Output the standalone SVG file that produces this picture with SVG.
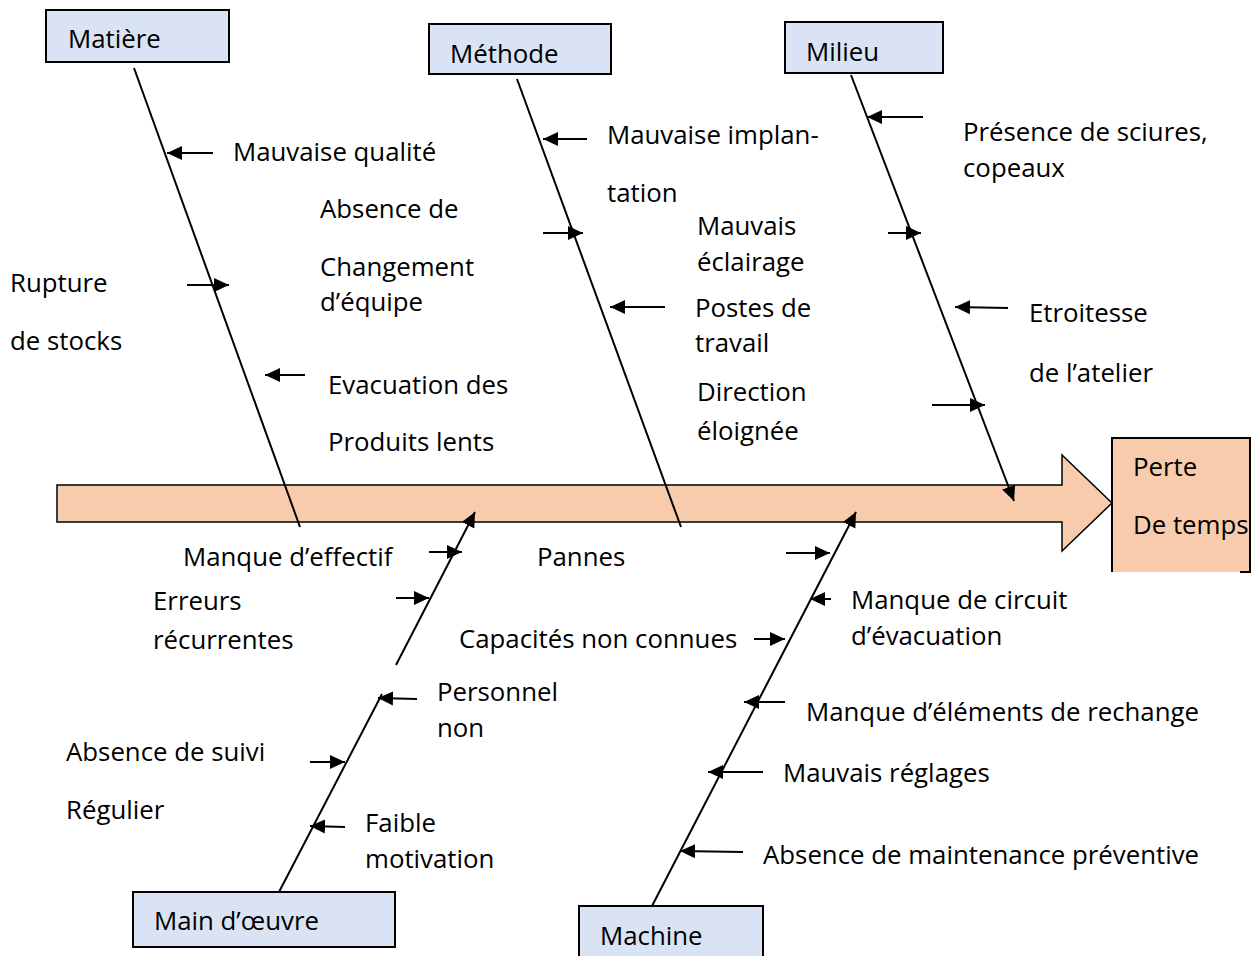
<svg xmlns="http://www.w3.org/2000/svg" width="1252" height="956" viewBox="0 0 1252 956">
<style>
.cat{fill:#DAE3F3;stroke:#000;stroke-width:2}
.eff{fill:#F8CBAD}
.ln{fill:none;stroke:#000;stroke-width:2}
.ar{fill:none;stroke:#000;stroke-width:2;marker-end:url(#ah)}
text{font-family:"Open Sans","Noto Sans",sans-serif;font-size:25.8px;fill:#000}
</style>
<defs>
<marker id="ah" markerUnits="userSpaceOnUse" markerWidth="17" markerHeight="16" refX="15" refY="8" orient="auto">
<path d="M0,1 L15,8 L0,15 Z" fill="#000"/>
</marker>
</defs>
<rect width="1252" height="956" fill="#fff"/>

<g id="spine">
<polygon class="eff" stroke="#000" stroke-width="1.5" points="57,485 1062,485 1062,455 1112,503 1062,551 1062,522 57,522"/>
</g>

<g id="effect">
<rect class="eff" x="1112" y="438" width="138" height="134"/>
<path d="M1112,572 V438 H1250 V572 H1240" fill="none" stroke="#000" stroke-width="2"/>
<text x="1133" y="476">Perte</text>
<text x="1133" y="534">De temps</text>
</g>

<g id="matiere">
<rect class="cat" x="46" y="10" width="183" height="52"/>
<text x="68" y="48">Matière</text>
</g>
<g id="methode">
<rect class="cat" x="429" y="24" width="182" height="50"/>
<text x="450" y="63">Méthode</text>
</g>
<g id="milieu">
<rect class="cat" x="785" y="22" width="158" height="51"/>
<text x="806" y="61">Milieu</text>
</g>
<g id="main-oeuvre">
<rect class="cat" x="133" y="892" width="262" height="55"/>
<text x="154" y="930">Main d’œuvre</text>
</g>
<g id="machine">
<rect class="cat" x="579" y="906" width="184" height="52"/>
<text x="600" y="945">Machine</text>
</g>

<g id="connectors">
<line class="ln" x1="134" y1="68" x2="300" y2="527"/>
<line class="ln" x1="517" y1="79" x2="681" y2="527"/>
<line class="ar" x1="851" y1="75" x2="1014" y2="501"/>
<line class="ln" x1="279" y1="892" x2="382" y2="694"/>
<line class="ar" x1="396" y1="665" x2="475" y2="512"/>
<line class="ar" x1="652" y1="906" x2="856" y2="512"/>

<line class="ar" x1="213" y1="153" x2="167" y2="153"/>
<line class="ar" x1="187" y1="285" x2="229" y2="285"/>
<line class="ar" x1="305" y1="375" x2="265" y2="375"/>

<line class="ar" x1="587" y1="139" x2="543" y2="139"/>
<line class="ar" x1="543" y1="233" x2="583" y2="233"/>
<line class="ar" x1="665" y1="307" x2="610" y2="307"/>

<line class="ar" x1="923" y1="117" x2="867" y2="117"/>
<line class="ar" x1="888" y1="233" x2="921" y2="233"/>
<line class="ar" x1="1008" y1="308" x2="955" y2="307"/>
<line class="ar" x1="932" y1="405" x2="985" y2="405"/>

<line class="ar" x1="429" y1="552" x2="462" y2="552"/>
<line class="ar" x1="396" y1="598" x2="429" y2="598"/>
<line class="ar" x1="417" y1="699" x2="378" y2="698"/>
<line class="ar" x1="310" y1="762" x2="345" y2="762"/>
<line class="ar" x1="345" y1="827" x2="310" y2="826"/>

<line class="ar" x1="786" y1="553" x2="830" y2="553"/>
<line class="ar" x1="831" y1="599" x2="810" y2="599"/>
<line class="ar" x1="754" y1="639" x2="785" y2="639"/>
<line class="ar" x1="785" y1="702" x2="744" y2="702"/>
<line class="ar" x1="763" y1="772" x2="708" y2="772"/>
<line class="ar" x1="743" y1="852" x2="680" y2="851"/>
</g>

<g id="labels">
<text x="233" y="161">Mauvaise qualité</text>
<text x="320" y="218">Absence de</text>
<text x="320" y="276">Changement</text>
<text x="320" y="311">d’équipe</text>
<text x="10" y="292">Rupture</text>
<text x="10" y="350">de stocks</text>
<text x="328" y="394">Evacuation des</text>
<text x="328" y="451">Produits lents</text>

<text x="607" y="144">Mauvaise implan-</text>
<text x="607" y="202">tation</text>
<text x="697" y="235">Mauvais</text>
<text x="697" y="271">éclairage</text>
<text x="695" y="317">Postes de</text>
<text x="695" y="352">travail</text>
<text x="697" y="401">Direction</text>
<text x="697" y="440">éloignée</text>

<text x="963" y="141">Présence de sciures,</text>
<text x="963" y="177">copeaux</text>
<text x="1029" y="322">Etroitesse</text>
<text x="1029" y="382">de l’atelier</text>

<text x="183" y="566">Manque d’effectif</text>
<text x="153" y="610">Erreurs</text>
<text x="153" y="649">récurrentes</text>
<text x="537" y="566">Pannes</text>
<text x="459" y="648">Capacités non connues</text>
<text x="437" y="701">Personnel</text>
<text x="437" y="737">non</text>
<text x="66" y="761">Absence de suivi</text>
<text x="66" y="819">Régulier</text>
<text x="365" y="832">Faible</text>
<text x="365" y="868">motivation</text>

<text x="851" y="609">Manque de circuit</text>
<text x="851" y="645">d’évacuation</text>
<text x="806" y="721">Manque d’éléments de rechange</text>
<text x="783" y="782">Mauvais réglages</text>
<text x="763" y="864">Absence de maintenance préventive</text>
</g>
</svg>
